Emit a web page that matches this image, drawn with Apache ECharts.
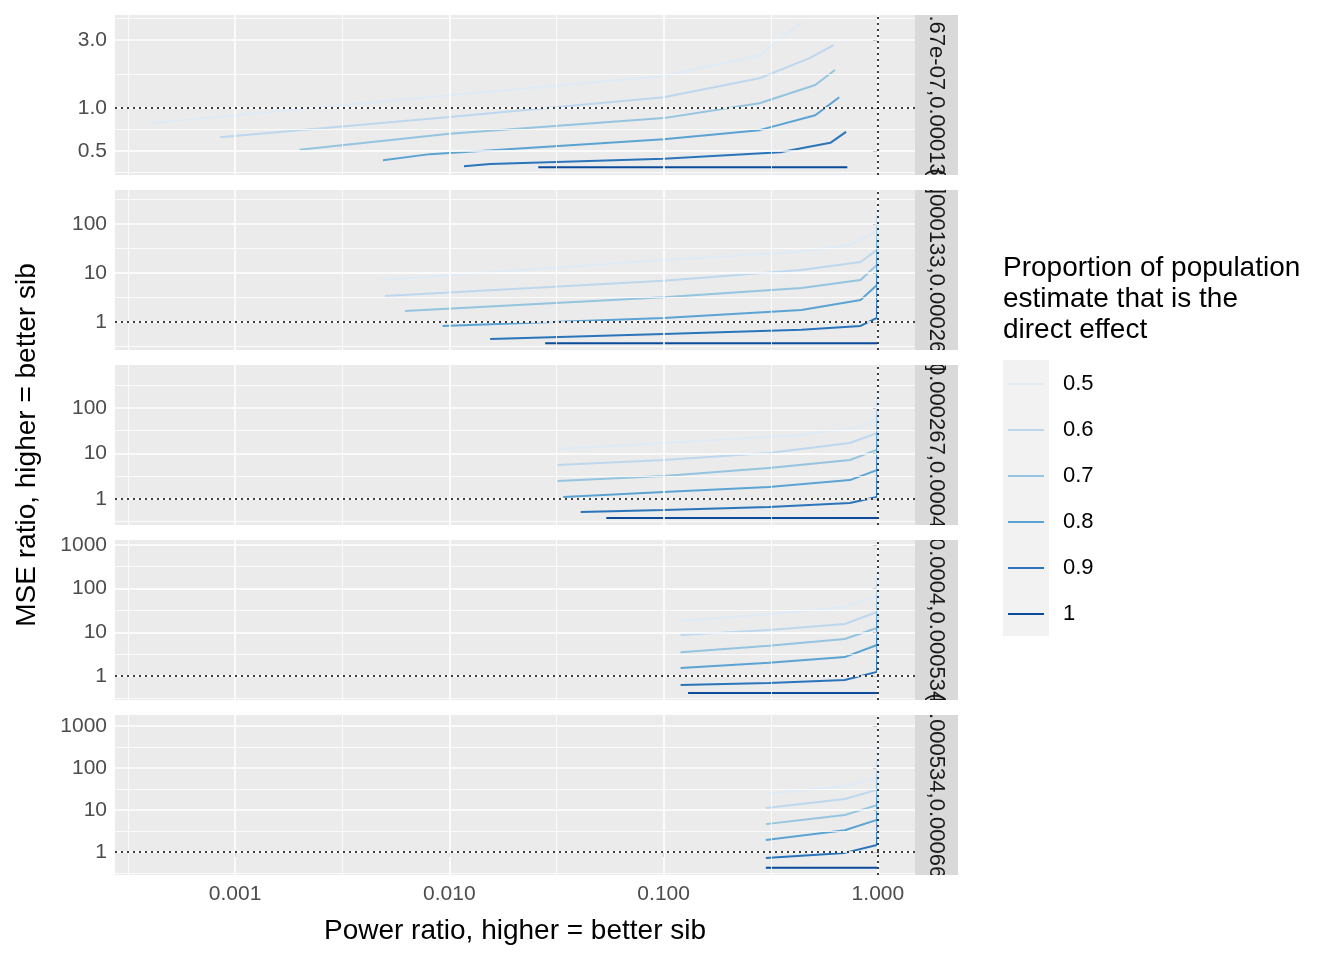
<!DOCTYPE html>
<html>
<head>
<meta charset="UTF-8">
<title>MSE ratio vs power ratio</title>
<script src="https://cdn.jsdelivr.net/npm/echarts@6/dist/echarts.min.js"></script>
<style>
  html, body { margin: 0; padding: 0; background: #fff; }
  #main { width: 1344px; height: 960px; }
</style>
</head>
<body>
<div id="main"></div>
<script>
// legend levels and colours
const levels = ['0.5', '0.6', '0.7', '0.8', '0.9', '1'];
const colors = ['#DEEBF7', '#BDD7EE', '#94C4DF', '#5BA3D3', '#2A74BA', '#0B4B9A'];

const stripLabels = ['(6.67e-07,0.000133]', '(0.000133,0.000267]', '(0.000267,0.0004]',
                     '(0.0004,0.000534]', '(0.000534,0.000667]'];

// x axis (power ratio)
const xRange = [0.000275, 1.49];
const xTicks = [0.001, 0.01, 0.1, 1];
const xTickLabels = ['0.001', '0.010', '0.100', '1.000'];

// y axis per panel (MSE ratio)
const yRanges = [[0.339, 4.5], [0.268, 491], [0.268, 881], [0.282, 1292], [0.283, 1820]];
const yTicks = [[0.5, 1, 3], [1, 10, 100], [1, 10, 100], [1, 10, 100, 1000], [1, 10, 100, 1000]];
const yTickLabels = [['0.5', '1.0', '3.0'], ['1', '10', '100'], ['1', '10', '100'],
                     ['1', '10', '100', '1000'], ['1', '10', '100', '1000']];

// panel 1
const p1X = [
  [0.00041, 0.001, 0.01, 0.1, 0.28, 0.44],
  [0.00085, 0.01, 0.1, 0.28, 0.48, 0.62],
  [0.002, 0.01, 0.1, 0.28, 0.51, 0.63],
  [0.0049, 0.0081, 0.1, 0.28, 0.51, 0.66],
  [0.0117, 0.0155, 0.1, 0.35, 0.6, 0.71],
  [0.026, 0.72]
];
const p1Y = [
  [0.785, 0.89, 1.23, 1.68, 2.35, 4.0],
  [0.625, 0.865, 1.19, 1.62, 2.24, 2.77],
  [0.51, 0.66, 0.85, 1.08, 1.45, 1.85],
  [0.43, 0.475, 0.605, 0.70, 0.89, 1.19],
  [0.39, 0.405, 0.44, 0.49, 0.57, 0.68],
  [0.385, 0.385]
];
// panel 2
const p2X = [
  [0.0048, 0.1, 0.44, 0.74, 0.98, 1],
  [0.005, 0.1, 0.44, 0.83, 0.99, 1],
  [0.0062, 0.1, 0.44, 0.83, 0.99, 1],
  [0.0093, 0.1, 0.44, 0.83, 0.99, 1],
  [0.0155, 0.1, 0.44, 0.83, 0.99, 1],
  [0.028, 1]
];
const p2Y = [
  [7.2, 18.4, 26.9, 37.4, 69, 245],
  [3.4, 6.9, 11.5, 16.7, 29.5, 194],
  [1.68, 3.2, 4.9, 7.2, 14.6, 152],
  [0.83, 1.21, 1.76, 2.8, 5.7, 95],
  [0.45, 0.57, 0.69, 0.83, 1.21, 47],
  [0.37, 0.37]
];
// panel 3
const p3X = [
  [0.032, 0.1, 0.44, 0.83, 0.99, 1],
  [0.032, 0.1, 0.31, 0.74, 0.99, 1],
  [0.032, 0.1, 0.31, 0.74, 0.99, 1],
  [0.034, 0.1, 0.31, 0.74, 0.99, 1],
  [0.041, 0.1, 0.31, 0.74, 0.99, 1],
  [0.054, 1]
];
const p3Y = [
  [12.6, 17, 25.5, 38, 60, 320],
  [5.6, 7.2, 10.2, 17, 28, 250],
  [2.5, 3.2, 4.8, 7.2, 12, 150],
  [1.1, 1.43, 1.84, 2.6, 4.3, 90],
  [0.52, 0.57, 0.67, 0.82, 1.1, 33],
  [0.38, 0.38]
];
// panel 4
const p4X = [
  [0.12, 0.31, 0.7, 0.99, 1],
  [0.12, 0.31, 0.7, 0.99, 1],
  [0.12, 0.31, 0.7, 0.99, 1],
  [0.12, 0.31, 0.7, 0.99, 1],
  [0.12, 0.31, 0.7, 0.99, 1],
  [0.13, 1]
];
const p4Y = [
  [18, 26, 38, 68, 450],
  [8.7, 11.3, 15.5, 29, 270],
  [3.5, 4.9, 7.0, 12.5, 158],
  [1.52, 2.0, 2.7, 5.1, 71],
  [0.62, 0.69, 0.81, 1.24, 25],
  [0.41, 0.41]
];
// panel 5
const p5X = [
  [0.3, 0.7, 0.99, 1],
  [0.3, 0.7, 0.99, 1],
  [0.3, 0.7, 0.99, 1],
  [0.3, 0.7, 0.99, 1],
  [0.3, 0.7, 0.99, 1],
  [0.3, 1]
];
const p5Y = [
  [24, 37, 58, 460],
  [11.2, 18.3, 30, 270],
  [4.6, 7.6, 13, 155],
  [1.93, 3.3, 5.8, 68],
  [0.72, 0.95, 1.47, 23],
  [0.42, 0.42]
];

const panelX = [p1X, p2X, p3X, p4X, p5X];
const panelY = [p1Y, p2Y, p3Y, p4Y, p5Y];

const L = Math.log10;
const font = 'Liberation Sans, Arial, sans-serif';
const tops = [15, 190, 365, 540, 715];
const panelH = 160;
const left = 115, right = 915;

function midpoints(ticks, lo, hi) {
  // minor breaks halfway between majors in log space
  const t = ticks.map(L);
  const step = t.length > 1 ? t[1] - t[0] : 1;
  const out = [];
  const all = [t[0] - step].concat(t, [t[t.length - 1] + step]);
  for (let i = 0; i < all.length - 1; i++) {
    const m = (all[i] + all[i + 1]) / 2;
    if (m > lo && m < hi) out.push(m);
  }
  return out;
}

const grids = [], xAxes = [], yAxes = [], series = [];
const xMinor = midpoints(xTicks, L(xRange[0]), L(xRange[1]));

tops.forEach((top, p) => {
  grids.push({ left: left, width: right - left, top: top, height: panelH,
               show: true, backgroundColor: '#EBEBEB', borderWidth: 0 });
  const last = p === tops.length - 1;
  xAxes.push({
    type: 'value', gridIndex: p, min: L(xRange[0]), max: L(xRange[1]),
    axisLine: { show: false }, splitLine: { show: false },
    axisTick: { show: last, length: 5, lineStyle: { color: '#333' }, customValues: xTicks.map(L) },
    axisLabel: { show: last, customValues: xTicks.map(L), color: '#4D4D4D', fontSize: 21, fontFamily: font, margin: 9,
                 formatter: v => xTickLabels[xTicks.findIndex(t => Math.abs(L(t) - v) < 1e-6)] }
  });
  const yt = yTicks[p];
  yAxes.push({
    type: 'value', gridIndex: p, min: L(yRanges[p][0]), max: L(yRanges[p][1]),
    axisLine: { show: false }, splitLine: { show: false },
    axisTick: { show: true, length: 5, lineStyle: { color: '#333' }, customValues: yt.map(L) },
    axisLabel: { customValues: yt.map(L), color: '#4D4D4D', fontSize: 21, fontFamily: font, margin: 8,
                 formatter: v => yTickLabels[p][yt.findIndex(t => Math.abs(L(t) - v) < 1e-6)] }
  });
  const yMinor = midpoints(yt, L(yRanges[p][0]), L(yRanges[p][1]));
  const ml = (arr, key, w) => arr.map(v => ({ [key]: v, lineStyle: { color: '#fff', width: w, type: 'solid' } }));
  series.push({
    type: 'line', xAxisIndex: p, yAxisIndex: p, data: [], silent: true, z: 1,
    markLine: { silent: true, symbol: ['none', 'none'], label: { show: false }, animation: false,
                data: ml(xMinor, 'xAxis', 0.8).concat(ml(yMinor, 'yAxis', 0.8),
                      ml(xTicks.map(L), 'xAxis', 1.6), ml(yt.map(L), 'yAxis', 1.6)) }
  });
  levels.forEach((lv, k) => {
    series.push({
      name: lv, type: 'line', xAxisIndex: p, yAxisIndex: p, z: 3,
      showSymbol: false, animation: false,
      lineStyle: { color: colors[k], width: 2 },
      data: panelX[p][k].map((x, i) => [L(x), L(panelY[p][k][i])])
    });
  });
  series.push({
    type: 'line', xAxisIndex: p, yAxisIndex: p, data: [], silent: true, z: 5,
    markLine: { silent: true, symbol: ['none', 'none'], label: { show: false }, animation: false,
                lineStyle: { color: '#000', width: 1.5, type: [2, 4] },
                data: [{ xAxis: 0 }, { yAxis: 0 }] }
  });
});

const graphic = [];
tops.forEach((top, p) => {
  graphic.push({ type: 'rect', shape: { x: 915, y: top, width: 43, height: panelH },
                 style: { fill: '#D9D9D9' }, z: 10 });
  graphic.push({ type: 'text', x: 936, y: top + panelH / 2, rotation: -Math.PI / 2, z: 11,
                 style: { text: stripLabels[p], fill: '#1A1A1A', fontSize: 22, fontFamily: font,
                          align: 'center', verticalAlign: 'middle' } });
});
// clip strip text to the strip boxes
[[0, 15], [175, 15], [350, 15], [525, 15], [700, 15], [875, 85]].forEach(g => {
  graphic.push({ type: 'rect', shape: { x: 914, y: g[0], width: 46, height: g[1] },
                 style: { fill: '#fff' }, z: 12 });
});
graphic.push({ type: 'text', x: 515, y: 931, z: 12,
               style: { text: 'Power ratio, higher = better sib', fill: '#000', fontSize: 28, fontFamily: font,
                        align: 'center', verticalAlign: 'middle' } });
graphic.push({ type: 'text', x: 27, y: 445, rotation: Math.PI / 2, z: 12,
               style: { text: 'MSE ratio, higher = better sib', fill: '#000', fontSize: 28, fontFamily: font,
                        align: 'center', verticalAlign: 'middle' } });
graphic.push({ type: 'text', x: 1003, y: 253, z: 12,
               style: { text: 'Proportion of population\nestimate that is the\ndirect effect', fill: '#000',
                        fontSize: 28, lineHeight: 31, fontFamily: font } });
graphic.push({ type: 'rect', shape: { x: 1003, y: 360, width: 46, height: 276 },
               style: { fill: '#F2F2F2' }, z: 12 });
levels.forEach((lv, k) => {
  const y = 384 + k * 46;
  graphic.push({ type: 'line', shape: { x1: 1008, y1: y, x2: 1044, y2: y },
                 style: { stroke: colors[k], lineWidth: 2 }, z: 13 });
  graphic.push({ type: 'text', x: 1063, y: y, z: 13,
                 style: { text: lv, fill: '#000', fontSize: 22, fontFamily: font, verticalAlign: 'middle' } });
});

const chart = echarts.init(document.getElementById('main'));
chart.setOption({
  animation: false,
  grid: grids, xAxis: xAxes, yAxis: yAxes, series: series, graphic: graphic
});
</script>
</body>
</html>
